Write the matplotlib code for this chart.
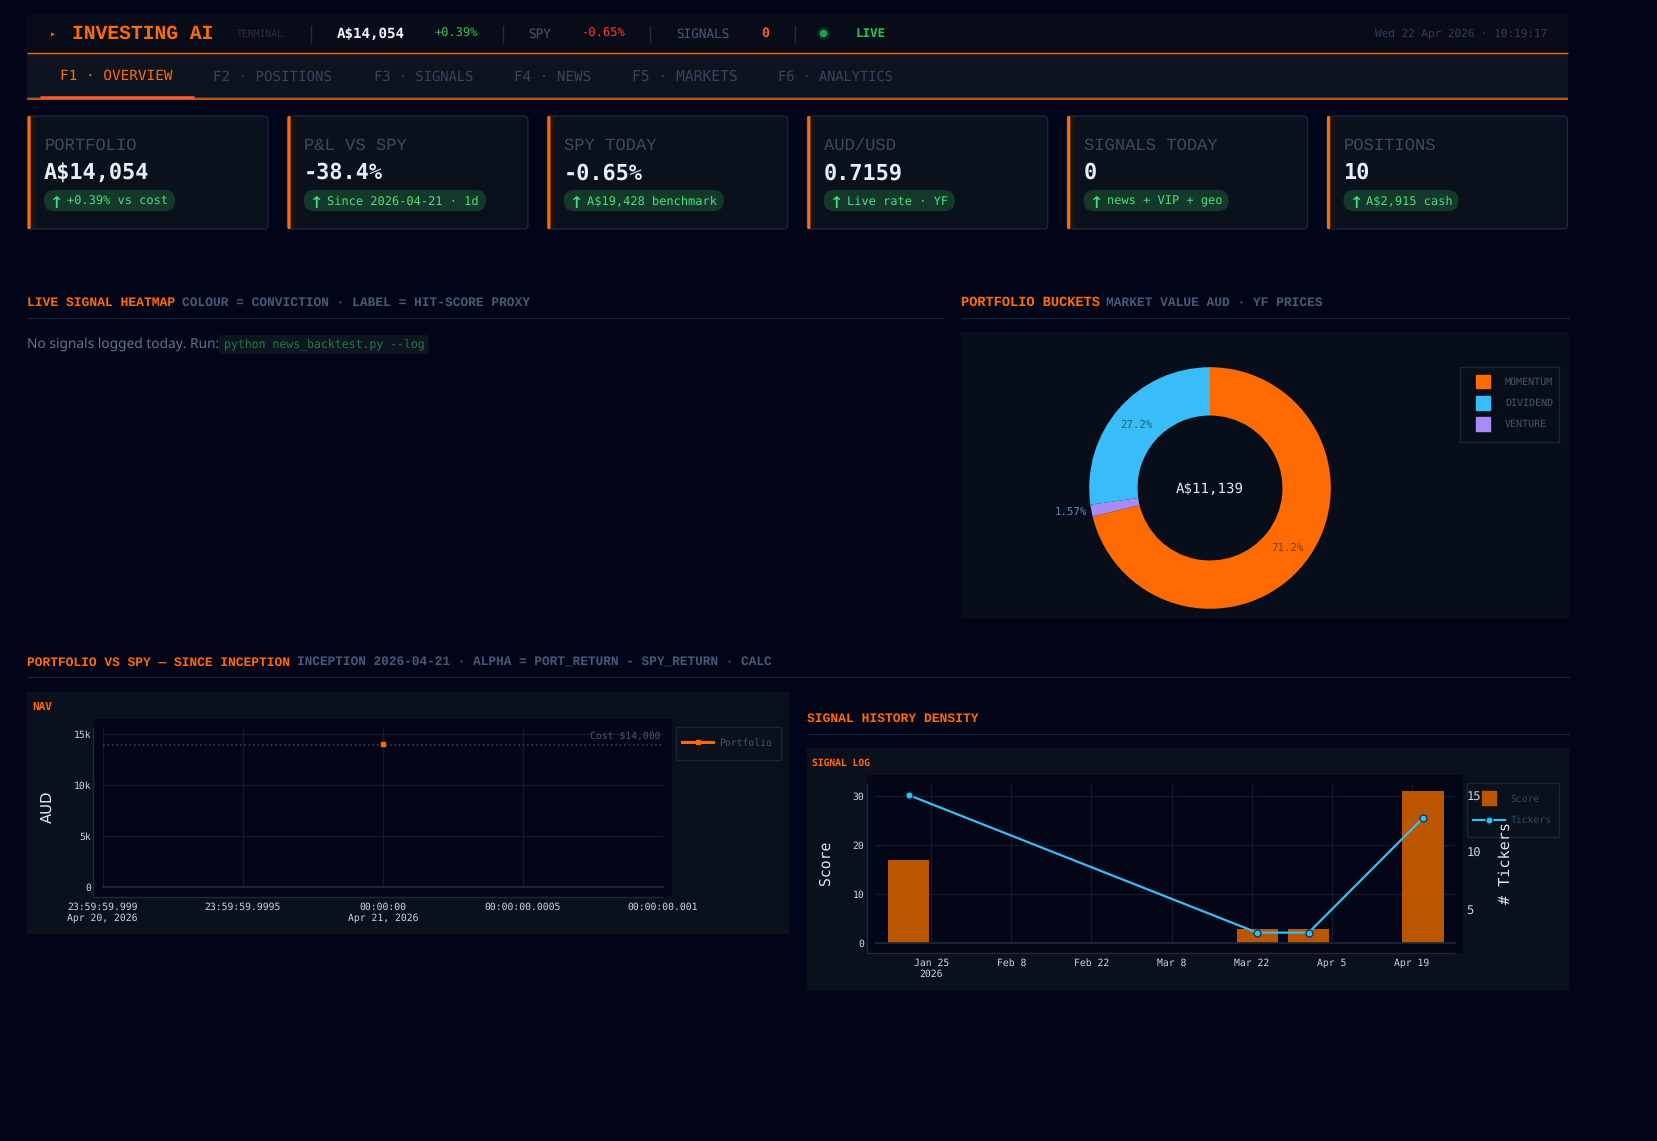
import matplotlib
matplotlib.use("Agg")
import matplotlib.pyplot as plt
import matplotlib.dates as mdates
import pandas as pd
from matplotlib.legend_handler import HandlerPatch
from matplotlib.patches import FancyBboxPatch, Patch, Rectangle

plt.rcParams["text.hinting"] = "none"

W = 1657
H = 1141

# card row
card_labels = ["PORTFOLIO", "P&L VS SPY", "SPY TODAY", "AUD/USD", "SIGNALS TODAY", "POSITIONS"]
card_values = ["A$14,054", "-38.4%", "-0.65%", "0.7159", "0", "10"]
card_notes = ["+0.39% vs cost", "Since 2026-04-21 · 1d", "A$19,428 benchmark", "Live rate · YF", "news + VIP + geo", "A$2,915 cash"]

tab_names = ["F1 · OVERVIEW", "F2 · POSITIONS", "F3 · SIGNALS", "F4 · NEWS", "F5 · MARKETS", "F6 · ANALYTICS"]

# portfolio buckets
bucket_names = ["MOMENTUM", "VENTURE", "DIVIDEND"]
bucket_pct = [71.2, 1.57, 27.2]
bucket_total = "A$11,139"

# nav chart, x is milliseconds from inception
nav_x = [0]
nav_y = [14054]
nav_cost = 14000
nav_xticks = [-1, -0.5, 0, 0.5, 1]
nav_xlabels = ["23:59:59.999\nApr 20, 2026", "23:59:59.9995", "00:00:00\nApr 21, 2026", "00:00:00.0005", "00:00:00.001"]
nav_yticks = [0, 5000, 10000, 15000]
nav_ylabels = ["0", "5k", "10k", "15k"]

# signal log
signal_dates = pd.to_datetime(["2026-01-21", "2026-03-23", "2026-04-01", "2026-04-21"])
signal_scores = [17, 3, 3, 31]
signal_tickers = [15, 3, 3, 13]
signal_ticks = pd.to_datetime(["2026-01-25", "2026-02-08", "2026-02-22", "2026-03-08", "2026-03-22", "2026-04-05", "2026-04-19"])
signal_labels = ["Jan 25\n2026", "Feb 8", "Feb 22", "Mar 8", "Mar 22", "Apr 5", "Apr 19"]

PAGE = "#020518"
PANEL = "#0a101c"
PLOT = "#030616"
ORANGE = "#ff6b00"
BLUE = "#38bdf8"
PURPLE = "#a78bfa"
GREEN = "#22c55e"
RULE = "#1a2438"
GRID = "#121a2c"
MUTED = "#475569"
MONO = "DejaVu Sans Mono"
LIB = "Liberation Mono"

fig = plt.figure(figsize=(W / 100, H / 100), dpi=100, facecolor=PAGE)
bg = fig.add_axes([0, 0, 1, 1])
bg.set_xlim(0, W)
bg.set_ylim(H, 0)
bg.axis("off")


def label(x, y, s, adv, color, font=MONO, weight="normal", ha="left", rotation=0):
    # adv is the width of one character in pixels, y is the middle of the capitals
    fpx = adv / (0.6 if font == LIB else 0.602)
    if rotation:
        return fig.text(x, y, s, transform=bg.transData, color=color, fontsize=fpx * 0.72, family=font,
                        fontweight=weight, ha=ha, va="center", rotation=rotation, rotation_mode="anchor")
    return fig.text(x, y + 0.35 * fpx, s, transform=bg.transData, color=color, fontsize=fpx * 0.72,
                    family=font, fontweight=weight, ha=ha, va="baseline")


def box(x0, y0, x1, y1, color, edge="none", lw=0.8):
    bg.add_patch(Rectangle((x0, y0), x1 - x0, y1 - y0, facecolor=color, edgecolor=edge, linewidth=lw))


def rounded(x0, y0, x1, y1, r, color, edge="none", lw=0.8):
    bg.add_patch(FancyBboxPatch((x0 + r, y0 + r), x1 - x0 - 2 * r, y1 - y0 - 2 * r,
                                boxstyle="round,pad=%f,rounding_size=%f" % (r, r),
                                facecolor=color, edgecolor=edge, linewidth=lw))


def rule(x0, y0, x1, y1, color=RULE, lw=0.9):
    bg.plot([x0, x1], [y0, y1], color=color, linewidth=lw, solid_capstyle="butt")


def chart_axes(x0, y0, x1, y1):
    ax = fig.add_axes([x0 / W, 1 - y1 / H, (x1 - x0) / W, (y1 - y0) / H])
    ax.patch.set_alpha(0)
    for side in ax.spines:
        ax.spines[side].set_visible(False)
    return ax


def swatch(legend, orig_handle, xdescent, ydescent, width, height, fontsize):
    return Rectangle((width / 2 - 4.85 - xdescent, height / 2 - 5 - ydescent), 9.7, 10)


# top bar
box(27, 15, 1568, 53, "#080c18")
box(27, 54, 1568, 97, "#0d131f")
rule(27, 53.3, 1568, 53.3, ORANGE, 1.0)
rule(27, 97, 1568, 97, "#2a3648", 0.8)
rule(27, 98.8, 1568, 98.8, ORANGE, 1.1)
rule(40, 96.7, 194, 96.7, "#ff5a3c", 1.8)

label(50, 33, "▸", 6, ORANGE)
label(71.5, 32, "INVESTING AI", 11.8, ORANGE, LIB, "bold")
label(237, 34, "TERMINAL", 5.9, "#263244")
label(337, 33, "A$14,054", 8.5, "#f1f5f9", MONO, "bold")
label(434.6, 33, "+0.39%", 7.2, GREEN)
label(528, 33, "SPY", 7.6, "#475a75")
label(582, 33, "-0.65%", 7.3, "#ff3b30")
label(676, 33, "SIGNALS", 7.6, "#475a75")
label(761, 32.5, "0", 8, "#ff5a2c", MONO, "bold")
label(856, 33, "LIVE", 7.5, GREEN, MONO, "bold")
label(1375, 33, "Wed 22 Apr 2026 · 10:19:17", 6.6, "#2e3f5c")
for sx in [311, 503, 650, 795]:
    rule(sx, 25, sx, 43, "#1e2c42", 1.0)
bg.scatter([823], [33], s=85, color="#0d2a22", linewidths=0, zorder=3)
bg.scatter([823], [33], s=30, color="#16a34a", linewidths=0, zorder=3)

tab_x = [60, 213, 374, 513.5, 631.5, 778]
tab_adv = [8.7, 8.5, 8.25, 8.6, 8.8, 8.2]
for i, name in enumerate(tab_names):
    label(tab_x[i], 75 if i == 0 else 76, name, tab_adv[i], ORANGE if i == 0 else "#36455c")

# kpi cards
note_w = [131, 182, 160, 131, 145, 115]
for i in range(len(card_labels)):
    cx = 27.5 + 259.9 * i
    rounded(cx, 116, cx + 240.5, 229, 4, PANEL, "#1a2a40", 0.9)
    box(cx + 3, 117, cx + 8, 228, "#1a1410")
    rounded(cx, 116, cx + 3.2, 229, 1.2, ORANGE)
    label(cx + 17, 144, card_labels[i], 10.3, "#3c4a60", LIB)
    label(cx + 16.5, 171.5, card_values[i], 13.2, "#e8eef6", MONO, "bold")
    rounded(cx + 16.5, 190, cx + 16.5 + note_w[i], 211, 10, "#14392a")
    label(cx + 29.5, 200.5, "↑", 13.5, "#4ade80", MONO, ha="center")
    label(cx + 39.5, 200.5, card_notes[i], 7.2, "#4ade80")

# section headers
label(27, 301, "LIVE SIGNAL HEATMAP", 7.8, ORANGE, LIB, "bold")
label(182, 301, "COLOUR = CONVICTION · LABEL = HIT-SCORE PROXY", 7.73, "#475a75", LIB, "bold")
rule(27, 317.5, 943, 317.5)

label(961, 301, "PORTFOLIO BUCKETS", 8.2, ORANGE, LIB, "bold")
label(1106, 301, "MARKET VALUE AUD · YF PRICES", 7.7, "#475a75", LIB, "bold")
rule(961, 317.5, 1569, 317.5)

label(27, 661, "PORTFOLIO VS SPY — SINCE INCEPTION", 7.74, ORANGE, LIB, "bold")
label(297, 661, "INCEPTION 2026-04-21 · ALPHA = PORT_RETURN - SPY_RETURN · CALC", 7.65, "#475a75", LIB, "bold")
rule(27, 677, 1569, 677)

label(807, 717, "SIGNAL HISTORY DENSITY", 7.8, ORANGE, LIB, "bold")
rule(807, 734, 1569, 734)

# empty heatmap message
fig.text(27, 344, "No signals logged today. Run:", transform=bg.transData, color="#64748b",
         fontsize=9.9, family="Noto Sans", va="center")
rounded(219, 335, 428.6, 354, 4, "#0d1520")
label(223.5, 344, "python news_backtest.py --log", 6.95, "#1f7a44")

# donut
box(961, 332, 1569, 618, "#080d1a")
cx, cy, r = 1210, 488, 120.8
pie_ax = chart_axes(cx - r, cy - r, cx + r, cy + r)
pie_colors = [ORANGE, PURPLE, BLUE]
wedges, _ = pie_ax.pie(bucket_pct, colors=pie_colors, startangle=90, counterclock=False, radius=1,
                       wedgeprops={"width": 0.4, "linewidth": 0})
pie_ax.set_xlim(-1, 1)
pie_ax.set_ylim(-1, 1)
label(cx, cy, bucket_total, 8.5, "#e2e8f0", ha="center")
pct_pos = [(1287, 547), (1071, 511), (1136.5, 424)]
pct_col = ["#7a4418", "#5f86b8", "#1f6670"]
for i in range(3):
    label(pct_pos[i][0], pct_pos[i][1], "%.3g%%" % bucket_pct[i], 6.5, pct_col[i], ha="center")
box(1460, 367, 1559.4, 442, "none", RULE, 1.0)
pie_ax.legend([Patch(color=ORANGE), Patch(color=BLUE), Patch(color=PURPLE)],
              [bucket_names[0], bucket_names[2], bucket_names[1]],
              loc="upper left", bbox_to_anchor=(1476.5, 377), bbox_transform=bg.transData,
              frameon=False, borderpad=0, borderaxespad=0, handlelength=1.35, handleheight=1.0,
              handletextpad=1.5, labelspacing=1.12, labelcolor=MUTED,
              handler_map={Patch: HandlerPatch(patch_func=swatch)},
              prop={"family": MONO, "size": 6 / 0.602 * 0.72})

# nav panel
box(27, 692, 789, 934, PANEL)
label(32, 706, "NAV", 6.6, ORANGE, MONO, "bold")
box(93, 719, 671.5, 897, PLOT)
rule(93, 727, 93, 897, "#1e293b", 1.0)
rule(93, 897, 663, 897, "#1e293b", 1.0)

ax = chart_axes(102.5, 727, 663, 887.3)
ax.set_xlim(-1, 1)
ax.set_ylim(0, 15720)
ax.grid(True, color=GRID, linewidth=0.9)
ax.set_axisbelow(True)
ax.axhline(0, color="#1e293b", linewidth=1.2, clip_on=False)
ax.axhline(nav_cost, color="#2f3e55", linewidth=1.2, linestyle=":")
ax.plot(nav_x, nav_y, "-s", color=ORANGE, linewidth=2.2, markersize=3, label="Portfolio", clip_on=False)
ax.set_xticks(nav_xticks)
ax.set_xticklabels(nav_xlabels, linespacing=1.15)
ax.set_yticks(nav_yticks)
ax.set_yticklabels(nav_ylabels)
ax.tick_params(axis="both", length=0, labelcolor="#cbd5e1", labelsize=5.9 / 0.602 * 0.72)
ax.tick_params(axis="x", pad=11)
ax.tick_params(axis="y", pad=8.3)
for t in ax.get_xticklabels() + ax.get_yticklabels():
    t.set_family(MONO)
label(49, 807, "AUD", 9, "#e2e8f0", "DejaVu Sans", ha="center", rotation=90)
label(661, 735.7, "Cost $14,000", 5.9, MUTED, ha="right")
box(675.5, 727, 780.6, 760, "none", RULE, 1.0)
ax.legend(loc="upper left", bbox_to_anchor=(682, 738), bbox_transform=bg.transData, frameon=False,
          borderpad=0, borderaxespad=0, handlelength=3.2, handletextpad=0.6, labelcolor=MUTED,
          prop={"family": MONO, "size": 5.9 / 0.602 * 0.72})

# signal panel
box(807, 748, 1569, 990, PANEL)
label(811.6, 762, "SIGNAL LOG", 5.8, ORANGE, MONO, "bold")
box(867, 775, 1463, 953, PLOT)
rule(867, 783, 867, 953, "#1e293b", 1.0)
rule(867, 953, 1455, 953, "#1e293b", 1.0)

ax = chart_axes(876, 783, 1455, 943.3)
ax.set_xlim(mdates.date2num(signal_ticks[0]) - 9.7, mdates.date2num(signal_ticks[-1]) + 7.6)
ax.set_ylim(0, 32.7)
ax.grid(True, color=GRID, linewidth=0.9)
ax.set_axisbelow(True)
ax.axhline(0, color="#1e293b", linewidth=1.2, clip_on=False)
bars = ax.bar(signal_dates, signal_scores, width=7.2, color="#bb5500", label="Score", clip_on=False)
ax.set_xticks(signal_ticks)
ax.set_xticklabels(signal_labels, linespacing=1.15)
ax.set_yticks([0, 10, 20, 30])
ax.tick_params(axis="both", length=0, labelcolor="#cbd5e1", labelsize=5.9 / 0.602 * 0.72)
ax.tick_params(axis="x", pad=11)
ax.tick_params(axis="y", pad=8.3)
for t in ax.get_xticklabels() + ax.get_yticklabels():
    t.set_family(MONO)

ax2 = ax.twinx()
ax2.patch.set_alpha(0)
for side in ax2.spines:
    ax2.spines[side].set_visible(False)
ax2.set_ylim(2.07, 16.05)
line, = ax2.plot(signal_dates, signal_tickers, "-o", color=BLUE, linewidth=1.6, markersize=5,
                 markeredgecolor="#0c3c55", markeredgewidth=1.0, label="Tickers", clip_on=False)
ax2.set_yticks([5, 10, 15])
ax2.tick_params(axis="y", length=0, labelcolor="#cbd5e1", labelsize=7.3 / 0.602 * 0.72, pad=8)
for t in ax2.get_yticklabels():
    t.set_family(MONO)

box(1466.5, 783, 1559, 837, "none", RULE, 1.0)
ax2.legend([Patch(color="#bb5500"), line], ["Score", "Tickers"], loc="upper left",
           bbox_to_anchor=(1473, 794), bbox_transform=bg.transData, frameon=False, borderpad=0,
           borderaxespad=0, handlelength=3.3, handletextpad=0.55, labelspacing=1.2, labelcolor="#3a475c",
           handler_map={Patch: HandlerPatch(patch_func=swatch)},
           prop={"family": MONO, "size": 5.9 / 0.602 * 0.72})
label(826, 863, "Score", 8.9, "#e2e8f0", ha="center", rotation=90)
label(1506, 863, "# Tickers", 9.1, "#e2e8f0", ha="center", rotation=90)

fig.savefig("out.png", dpi=100, facecolor=PAGE)
